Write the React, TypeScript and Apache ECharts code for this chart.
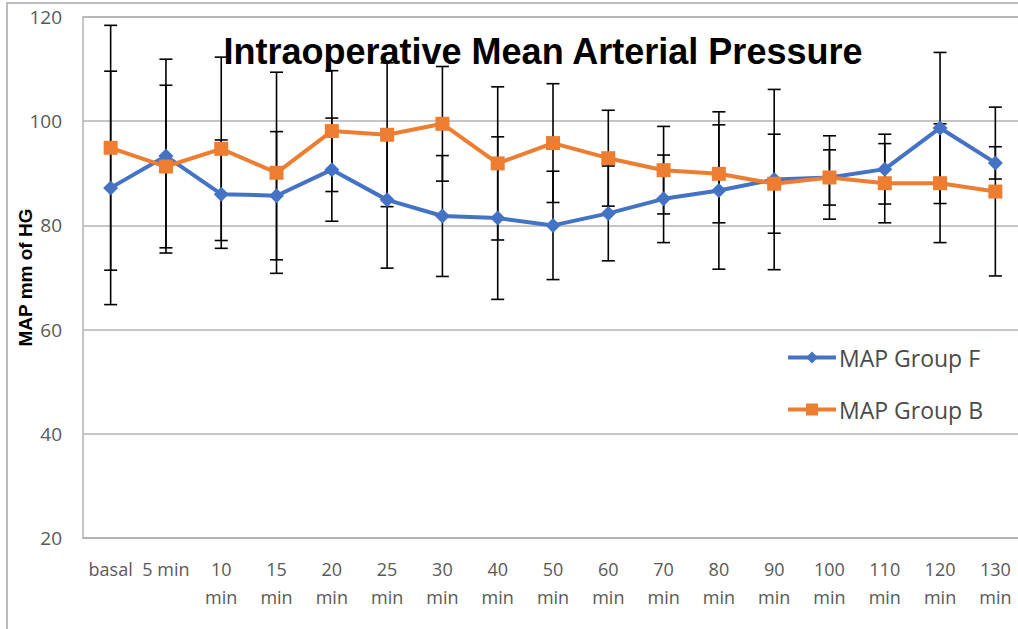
import React, { useEffect, useRef } from "react";
import * as echarts from "echarts";

const categories = [
  "basal", "5 min", "10 min", "15 min", "20 min", "25 min", "30 min", "40 min", "50 min",
  "60 min", "70 min", "80 min", "90 min", "100 min", "110 min", "120 min", "130 min",
];

const groupFMean = [87.2, 93.3, 86.0, 85.7, 90.7, 84.9, 81.8, 81.4, 80.0, 82.3, 85.1, 86.7, 88.8, 89.2, 90.8, 98.7, 92.0];
const groupFSD = [22.4, 18.6, 10.4, 12.3, 9.9, 13.1, 11.6, 15.6, 10.4, 9.1, 8.4, 15.1, 17.3, 8.0, 6.7, 14.5, 3.1];

const groupBMean = [94.9, 91.3, 94.7, 90.1, 98.1, 97.4, 99.5, 91.9, 95.8, 92.9, 90.6, 89.9, 88.0, 89.2, 88.1, 88.1, 86.5];
const groupBSD = [23.5, 15.6, 17.6, 19.3, 11.6, 13.8, 11.0, 14.7, 11.4, 9.2, 8.4, 9.4, 9.5, 5.3, 7.6, 11.4, 16.2];

const yTicks = { min: 20, max: 120, interval: 20 };

const BLUE = "#4472C4";
const ORANGE = "#ED7D31";
const GRID = "#b3b3b3";
const LABEL = "#595959";

function errorData(mean: number[], sd: number[]) {
  return mean.map((m, i) => [i, m - sd[i], m + sd[i]]);
}

function errorRender(params: any, api: any) {
  const x = api.value(0);
  const lo = api.coord([x, api.value(1)]);
  const hi = api.coord([x, api.value(2)]);
  const w = 6.5;
  const style = { stroke: "#000", lineWidth: 1.6 };
  return {
    type: "group",
    children: [
      { type: "line", shape: { x1: lo[0], y1: lo[1], x2: hi[0], y2: hi[1] }, style },
      { type: "line", shape: { x1: lo[0] - w, y1: lo[1], x2: lo[0] + w, y2: lo[1] }, style },
      { type: "line", shape: { x1: hi[0] - w, y1: hi[1], x2: hi[0] + w, y2: hi[1] }, style },
    ],
  };
}

export default function App() {
  const ref = useRef<HTMLDivElement>(null);

  useEffect(() => {
    if (!ref.current) return;
    const chart = echarts.init(ref.current, null, { renderer: "svg" });
    const option: any = {
      animation: false,
      backgroundColor: "#ffffff",
      grid: {
        left: 83,
        top: 17,
        right: -5,
        bottom: 91,
        show: true,
        borderColor: GRID,
        borderWidth: 1.5,
        outerBoundsMode: "none",
      },
      graphic: [
        {
          type: "rect",
          shape: { x: 7, y: 3, width: 1200, height: 800 },
          style: { fill: "none", stroke: "#a6a6a6", lineWidth: 1.5 },
          silent: true,
          z: 0,
        },
        {
          type: "text",
          x: 543,
          y: 51,
          z: 100,
          style: {
            text: "Intraoperative Mean Arterial Pressure",
            fontFamily: "Liberation Sans",
            fontWeight: "bold",
            fontSize: 36,
            fill: "#000000",
            align: "center",
            verticalAlign: "middle",
          },
        },
      ],
      legend: {
        data: ["MAP Group F", "MAP Group B"],
        orient: "vertical",
        left: 786,
        top: 346,
        padding: 0,
        itemWidth: 48,
        itemHeight: 15,
        itemGap: 29,
        lineStyle: { width: 4 },
        textStyle: { color: "#4a4a4a", fontFamily: "Open Sans", fontSize: 23, padding: [0, 0, 0, -2] },
      },
      xAxis: {
        type: "category",
        data: categories,
        boundaryGap: true,
        axisTick: { show: false },
        axisLine: { lineStyle: { color: GRID, width: 1.5 } },
        axisLabel: {
          interval: 0,
          color: LABEL,
          fontFamily: "Open Sans",
          fontSize: 18,
          lineHeight: 28,
          margin: 17,
          formatter: (v: string) => (v.length > 5 ? v.replace(" ", "\n") : v),
        },
      },
      yAxis: {
        type: "value",
        min: yTicks.min,
        max: yTicks.max,
        interval: yTicks.interval,
        name: "MAP mm of HG",
        nameLocation: "middle",
        nameGap: 48,
        nameMoveOverlap: false,
        nameTextStyle: { color: "#000", fontFamily: "Liberation Sans", fontWeight: "bold", fontSize: 19 },
        axisLine: { show: false },
        axisTick: { show: false },
        axisLabel: { color: LABEL, fontFamily: "Open Sans", fontSize: 19, margin: 21 },
        splitLine: { lineStyle: { color: GRID, width: 1.5 } },
      },
      series: [
        {
          name: "F SD",
          type: "custom",
          renderItem: errorRender,
          data: errorData(groupFMean, groupFSD),
          encode: { x: 0, y: [1, 2] },
          z: 1,
          silent: true,
        },
        {
          name: "B SD",
          type: "custom",
          renderItem: errorRender,
          data: errorData(groupBMean, groupBSD),
          encode: { x: 0, y: [1, 2] },
          z: 1,
          silent: true,
        },
        {
          name: "MAP Group F",
          type: "line",
          data: groupFMean,
          symbol: "diamond",
          symbolSize: 15,
          itemStyle: { color: BLUE },
          lineStyle: { color: BLUE, width: 4 },
          z: 3,
        },
        {
          name: "MAP Group B",
          type: "line",
          data: groupBMean,
          symbol: "rect",
          symbolSize: 14,
          itemStyle: { color: ORANGE },
          lineStyle: { color: ORANGE, width: 4 },
          z: 4,
        },
      ],
    };
    chart.setOption(option);
    return () => chart.dispose();
  }, []);

  return (
    <div
      ref={ref}
      style={{ position: "fixed", left: 0, top: 0, width: 1018, height: 629, background: "#fff" }}
    />
  );
}
